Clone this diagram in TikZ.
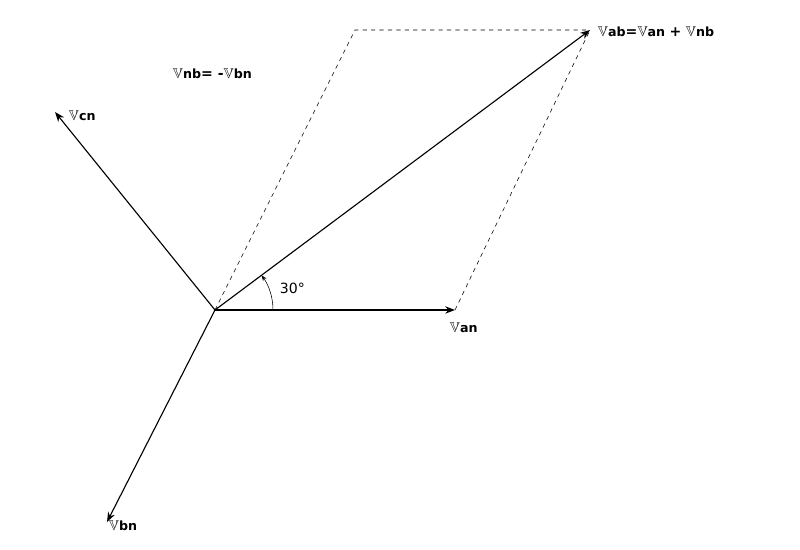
\documentclass[tikz,border=0pt]{standalone}
\usepackage{amssymb}
\usepackage{fontspec}
\setmainfont{DejaVu Sans}
\usetikzlibrary{arrows.meta}
\newcommand{\phasor}[1]{$\mathbb{V}$\textbf{\small #1}}
\begin{document}
\begin{tikzpicture}[x=0.025cm,y=0.025cm,
    vec/.style={thick,-{Stealth[length=7pt]}},
    aux/.style={thin,dashed}]
    \useasboundingbox (0,0) rectangle (800,550);
    % points of the phasor diagram
    \coordinate (o) at (215,240);
    \coordinate (an) at (455,240);
    \coordinate (ab) at (590,520);
    \coordinate (bn) at (107,28);
    \coordinate (cn) at (55,438);
    \coordinate (nb) at (355,520);

    % construction lines
    \draw[aux] (o) -- (nb) -- (ab);
    \draw[aux] (an) -- (ab);

    % phasors
    \draw[vec] (o) -- (an);
    \draw[vec] (o) -- (ab);
    \draw[vec] (o) -- (bn);
    \draw[vec] (o) -- (cn);

    % angle
    \draw[-{Stealth[length=4pt]}] ([shift={(0:58)}]o) arc (0:36.7:58);
    \node[anchor=west] (ang) at (275,262) {30°};

    % labels
    \node[anchor=west] (lab) at (593,518) {\phasor{ab}\textbf{=}\phasor{an} \textbf{+} \phasor{nb}};
    \node[anchor=north west] (lan) at (445,232) {\phasor{an}};
    \node[anchor=west] (lbn) at (104,24) {\phasor{bn}};
    \node[anchor=west] (lcn) at (64,434) {\phasor{cn}};
    \node[anchor=west] (lnb) at (168,476) {\phasor{nb}\textbf{= -}\phasor{bn}};
\end{tikzpicture}
\end{document}
